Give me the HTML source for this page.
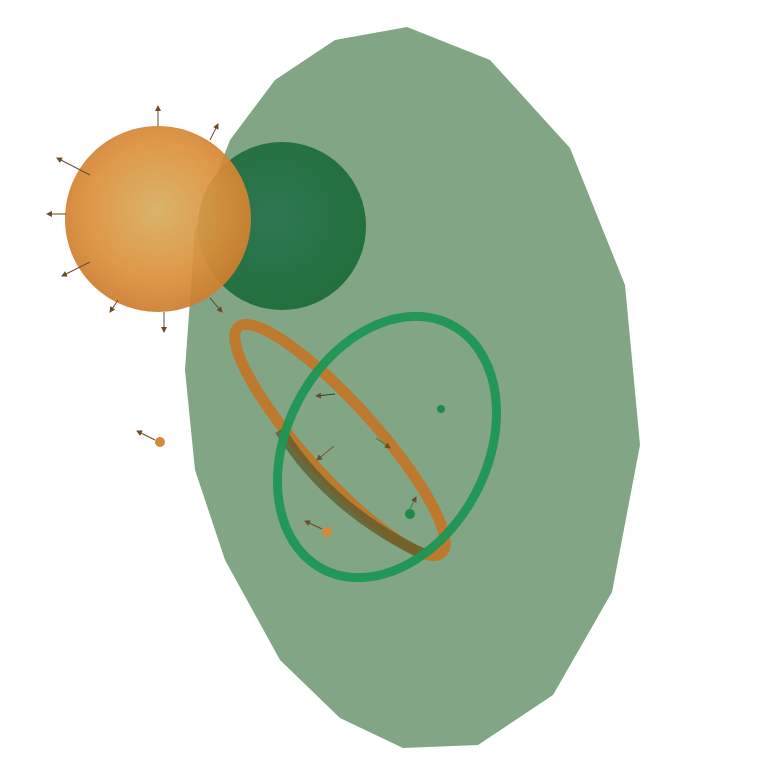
<!DOCTYPE html>
<html><head><meta charset="utf-8"><style>
html,body{margin:0;padding:0;background:#fff;width:764px;height:784px;overflow:hidden}
svg{display:block}
</style></head><body>
<svg width="764" height="784" viewBox="0 0 764 784">
<defs>
<radialGradient id="og" cx="0.5" cy="0.45" r="0.6">
<stop offset="0" stop-color="#d6ad5e"/><stop offset="0.6" stop-color="#dc903a"/><stop offset="1" stop-color="#c9772a"/>
</radialGradient>
<radialGradient id="gg" cx="0.45" cy="0.45" r="0.6">
<stop offset="0" stop-color="#27734f"/><stop offset="1" stop-color="#1a6a35"/>
</radialGradient>
<marker id="ah" markerWidth="6" markerHeight="6" refX="5" refY="3" orient="auto"><path d="M0,0 L6,3 L0,6z" fill="#6b4a2a"/></marker>
</defs>
<polygon fill="#6f9874" fill-opacity="0.88"
points="407,27 335,40 275,80 230,140 195,230 185,370 195,470 225,560 280,660 340,718 403,748 478,745 553,695 612,592 640,445 625,285 570,148 490,60"/>
<circle cx="282" cy="226" r="84" fill="url(#gg)" fill-opacity="0.92"/>
<circle cx="158" cy="219" r="93" fill="url(#og)" fill-opacity="0.92"/>
<g stroke="#6b4a2a" stroke-width="1" marker-end="url(#ah)">
<line x1="158" y1="126" x2="158" y2="106"/><line x1="210" y1="140" x2="218" y2="124"/>
<line x1="90" y1="175" x2="57" y2="158"/><line x1="66" y1="214" x2="47" y2="214"/>
<line x1="90" y1="262" x2="62" y2="276"/><line x1="164" y1="312" x2="164" y2="332"/>
<line x1="118" y1="300" x2="110" y2="312"/><line x1="210" y1="298" x2="222" y2="312"/>
</g>
<ellipse cx="340" cy="440" rx="152" ry="36" transform="rotate(48 340 440)" fill="none" stroke="#c27628" stroke-width="11" stroke-opacity="0.92"/>
<path d="M 280 430 Q 330 510 425 555" fill="none" stroke="#5d5a2c" stroke-width="11" stroke-opacity="0.75"/>
<ellipse cx="387" cy="447" rx="138" ry="100" transform="rotate(-62 387 447)" fill="none" stroke="#1e9655" stroke-width="9" stroke-opacity="0.95"/>
<g>
<line x1="155" y1="440" x2="137" y2="431" stroke="#6b4a2a" marker-end="url(#ah)"/>
<circle cx="160" cy="442" r="5" fill="#d38a3a"/>
<line x1="322" y1="529" x2="305" y2="521" stroke="#6b4a2a" marker-end="url(#ah)"/>
<circle cx="327" cy="532" r="5" fill="#d38a3a"/>
<line x1="410" y1="509" x2="416" y2="497" stroke="#1f8a4a" marker-end="url(#ah)"/>
<circle cx="410" cy="514" r="5" fill="#1f8a4a"/>
<circle cx="441" cy="409" r="4" fill="#1f8a4a"/>
<line x1="335" y1="394" x2="316" y2="396" stroke="#2a4a2a" marker-end="url(#ah)"/>
<line x1="334" y1="446" x2="317" y2="460" stroke="#7a5a2a" marker-end="url(#ah)"/>
<line x1="376" y1="438" x2="390" y2="448" stroke="#1f8a4a" marker-end="url(#ah)"/>
</g>
</svg>
</body></html>
